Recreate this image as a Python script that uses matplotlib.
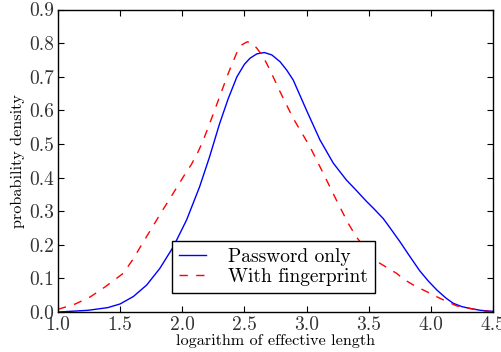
import matplotlib
matplotlib.use("Agg")
import matplotlib.pyplot as plt

# values
pw_x = [1.0, 1.24, 1.4, 1.5, 1.606, 1.713, 1.82, 1.928, 2.035, 2.14, 2.22, 2.30,
        2.37, 2.44, 2.50, 2.545, 2.60, 2.66, 2.72, 2.786, 2.84, 2.893, 3.0, 3.108,
        3.215, 3.32, 3.40, 3.48, 3.54, 3.617, 3.657, 3.75, 3.83, 3.91, 3.98, 4.05,
        4.12, 4.18, 4.25, 4.31, 4.4, 4.5]
pw_y = [0.0, 0.005, 0.013, 0.024, 0.046, 0.080, 0.13, 0.194, 0.274, 0.373, 0.462, 0.56,
        0.635, 0.70, 0.737, 0.755, 0.768, 0.772, 0.765, 0.745, 0.72, 0.69, 0.60, 0.512,
        0.443, 0.393, 0.362, 0.330, 0.308, 0.278, 0.258, 0.21, 0.166, 0.123, 0.092, 0.065,
        0.042, 0.026, 0.016, 0.011, 0.005, 0.002]

fp_x = [1.0, 1.14, 1.26, 1.38, 1.525, 1.60, 1.686, 1.76, 1.847, 1.93, 2.008, 2.075,
        2.128, 2.17, 2.23, 2.30, 2.37, 2.437, 2.48, 2.523, 2.56, 2.60, 2.65, 2.706,
        2.786, 2.893, 3.027, 3.134, 3.24, 3.335, 3.40, 3.50, 3.59, 3.725, 3.78, 3.87,
        3.97, 4.05, 4.13, 4.21, 4.31, 4.42, 4.5]
fp_y = [0.008, 0.024, 0.045, 0.075, 0.115, 0.155, 0.208, 0.253, 0.306, 0.355, 0.402, 0.44,
        0.477, 0.512, 0.57, 0.64, 0.71, 0.77, 0.795, 0.804, 0.80, 0.785, 0.76, 0.72,
        0.656, 0.576, 0.492, 0.413, 0.333, 0.264, 0.224, 0.175, 0.145, 0.115, 0.098, 0.078,
        0.06, 0.045, 0.031, 0.018, 0.011, 0.003, 0.001]

x_ticks = [1.0, 1.5, 2.0, 2.5, 3.0, 3.5, 4.0, 4.5]
y_ticks = [0.0, 0.1, 0.2, 0.3, 0.4, 0.5, 0.6, 0.7, 0.8, 0.9]

plt.rcParams['font.family'] = ['cmr10', 'DejaVu Serif']
plt.rcParams['axes.formatter.use_mathtext'] = True

fig = plt.figure(figsize=(5.02, 3.52), dpi=100)
ax = fig.add_axes([0.1155, 0.1136, 0.8665, 0.8594])

ax.plot(pw_x, pw_y, color='blue', linewidth=1.0, label='Password only')
ax.plot(fp_x, fp_y, color='red', linewidth=1.0, linestyle=(0, (6, 6)),
        label='With fingerprint')

ax.set_xlim(1.0, 4.5)
ax.set_ylim(0.0, 0.9)
ax.set_xticks(x_ticks)
ax.set_yticks(y_ticks)
ax.set_xticklabels(['%.1f' % v for v in x_ticks])
ax.set_yticklabels(['%.1f' % v for v in y_ticks])
ax.tick_params(direction='in', top=True, right=True, length=4, width=0.8,
               labelsize=14, labelcolor='#333333', pad=3)
for s in ax.spines.values():
    s.set_linewidth(1.0)

ax.set_xlabel('logarithm of effective length', fontsize=11.7, labelpad=0)
ax.set_ylabel('probability density', fontsize=11.7, labelpad=3)

leg = ax.legend(loc='lower center', bbox_to_anchor=(0.4955, 0.063), fontsize=14,
                fancybox=False, framealpha=1, edgecolor='black', borderaxespad=0,
                handlelength=1.4, handletextpad=1.15, labelspacing=0.1, borderpad=0.35)
leg.get_frame().set_linewidth(1.0)

fig.savefig('out.png', dpi=100)
